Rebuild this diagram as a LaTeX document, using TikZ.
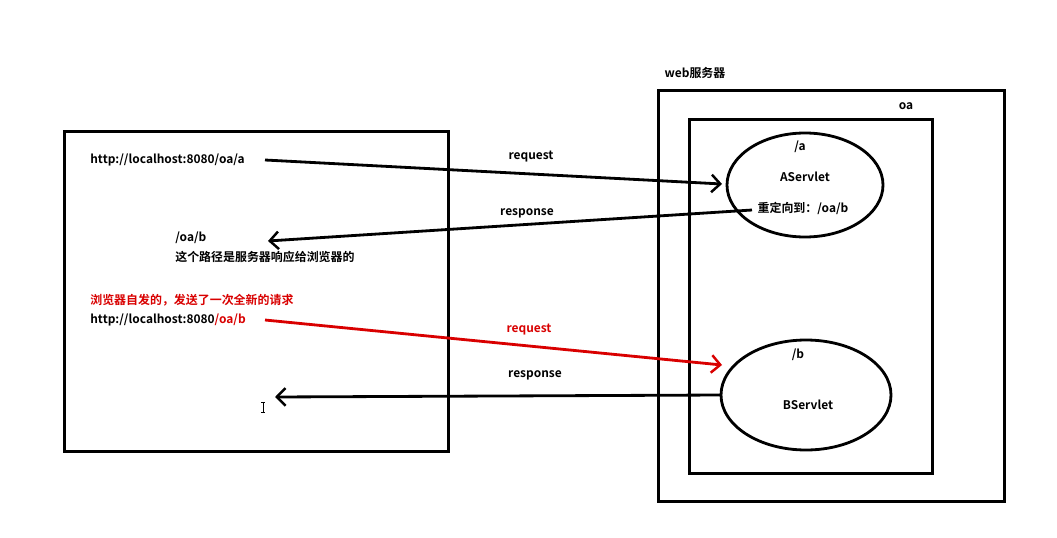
\documentclass[tikz,border=0pt]{standalone}
\usepackage{fontspec}
\setmainfont{Noto Sans CJK SC}[BoldFont={* Bold}]
\usetikzlibrary{arrows.meta}
\begin{document}
\begin{tikzpicture}[x=0.02cm,y=-0.02cm,
  box/.style={draw,line width=1.6pt},
  lab/.style={font=\fontsize{6.8}{8}\selectfont\bfseries,inner sep=0pt},
  conn/.style={line width=1.6pt,-{Straight Barb[length=5pt,width=10pt,line width=1.4pt]}}]
\useasboundingbox (0,0) rectangle (1057,537);
\fill[white] (0,0) rectangle (1057,537);
\node[box,minimum width=384*0.02cm,minimum height=320*0.02cm,inner sep=0,anchor=north west] (client) at (63,130) {};
\node[box,minimum width=346*0.02cm,minimum height=411*0.02cm,inner sep=0,anchor=north west] (web) at (657,89) {};
\node[box,minimum width=243*0.02cm,minimum height=354*0.02cm,inner sep=0,anchor=north west] (oa) at (688,118) {};
\node[lab] (weblab) at (695,73) {web服务器};
\node[lab] (oalab) at (906,106) {oa};
\draw[line width=1.6pt] (805,185) ellipse (78 and 52);
\draw[line width=1.6pt] (806,395) ellipse (85 and 55);
\node[lab] (pa) at (800,147) {/a};
\node[lab] (as) at (805,177) {AServlet};
\node[lab] (redir) at (803,208) {重定向到：/oa/b};
\node[lab] (pb) at (798,355) {/b};
\node[lab] (bs) at (808,405) {BServlet};
\node[lab,anchor=west] (urla) at (90,160) {http://localhost:8080/oa/a};
\node[lab,anchor=west] (oab) at (175,238) {/oa/b};
\node[lab,anchor=west] (expl) at (175,257) {这个路径是服务器响应给浏览器的};
\node[lab,anchor=west,text=red!85!black] (note) at (90,300) {浏览器自发的，发送了一次全新的请求};
\node[lab,anchor=west] (urlb) at (90,320) {http://localhost:8080\textcolor{red!85!black}{/oa/b}};
\coordinate (a1) at (265,160); \coordinate (a2) at (722,184);
\coordinate (b1) at (752,210); \coordinate (b2) at (268,241);
\coordinate (c1) at (265,320); \coordinate (c2) at (722,365);
\coordinate (d1) at (720,395); \coordinate (d2) at (275,397);
\draw[conn] (a1) -- (a2);
\draw[conn] (b1) -- (b2);
\draw[conn,red!85!black] (c1) -- (c2);
\draw[conn] (d1) -- (d2);
\node[lab] (r1) at (531,157) {request};
\node[lab] (r2) at (527,213) {response};
\node[lab,text=red!85!black] (r3) at (529,330) {request};
\node[lab] (r4) at (535,375) {response};
\draw[line width=0.5pt] (263,402) -- (263,412) (261,402) -- (265,402) (261,412) -- (265,412);
\end{tikzpicture}
\end{document}
